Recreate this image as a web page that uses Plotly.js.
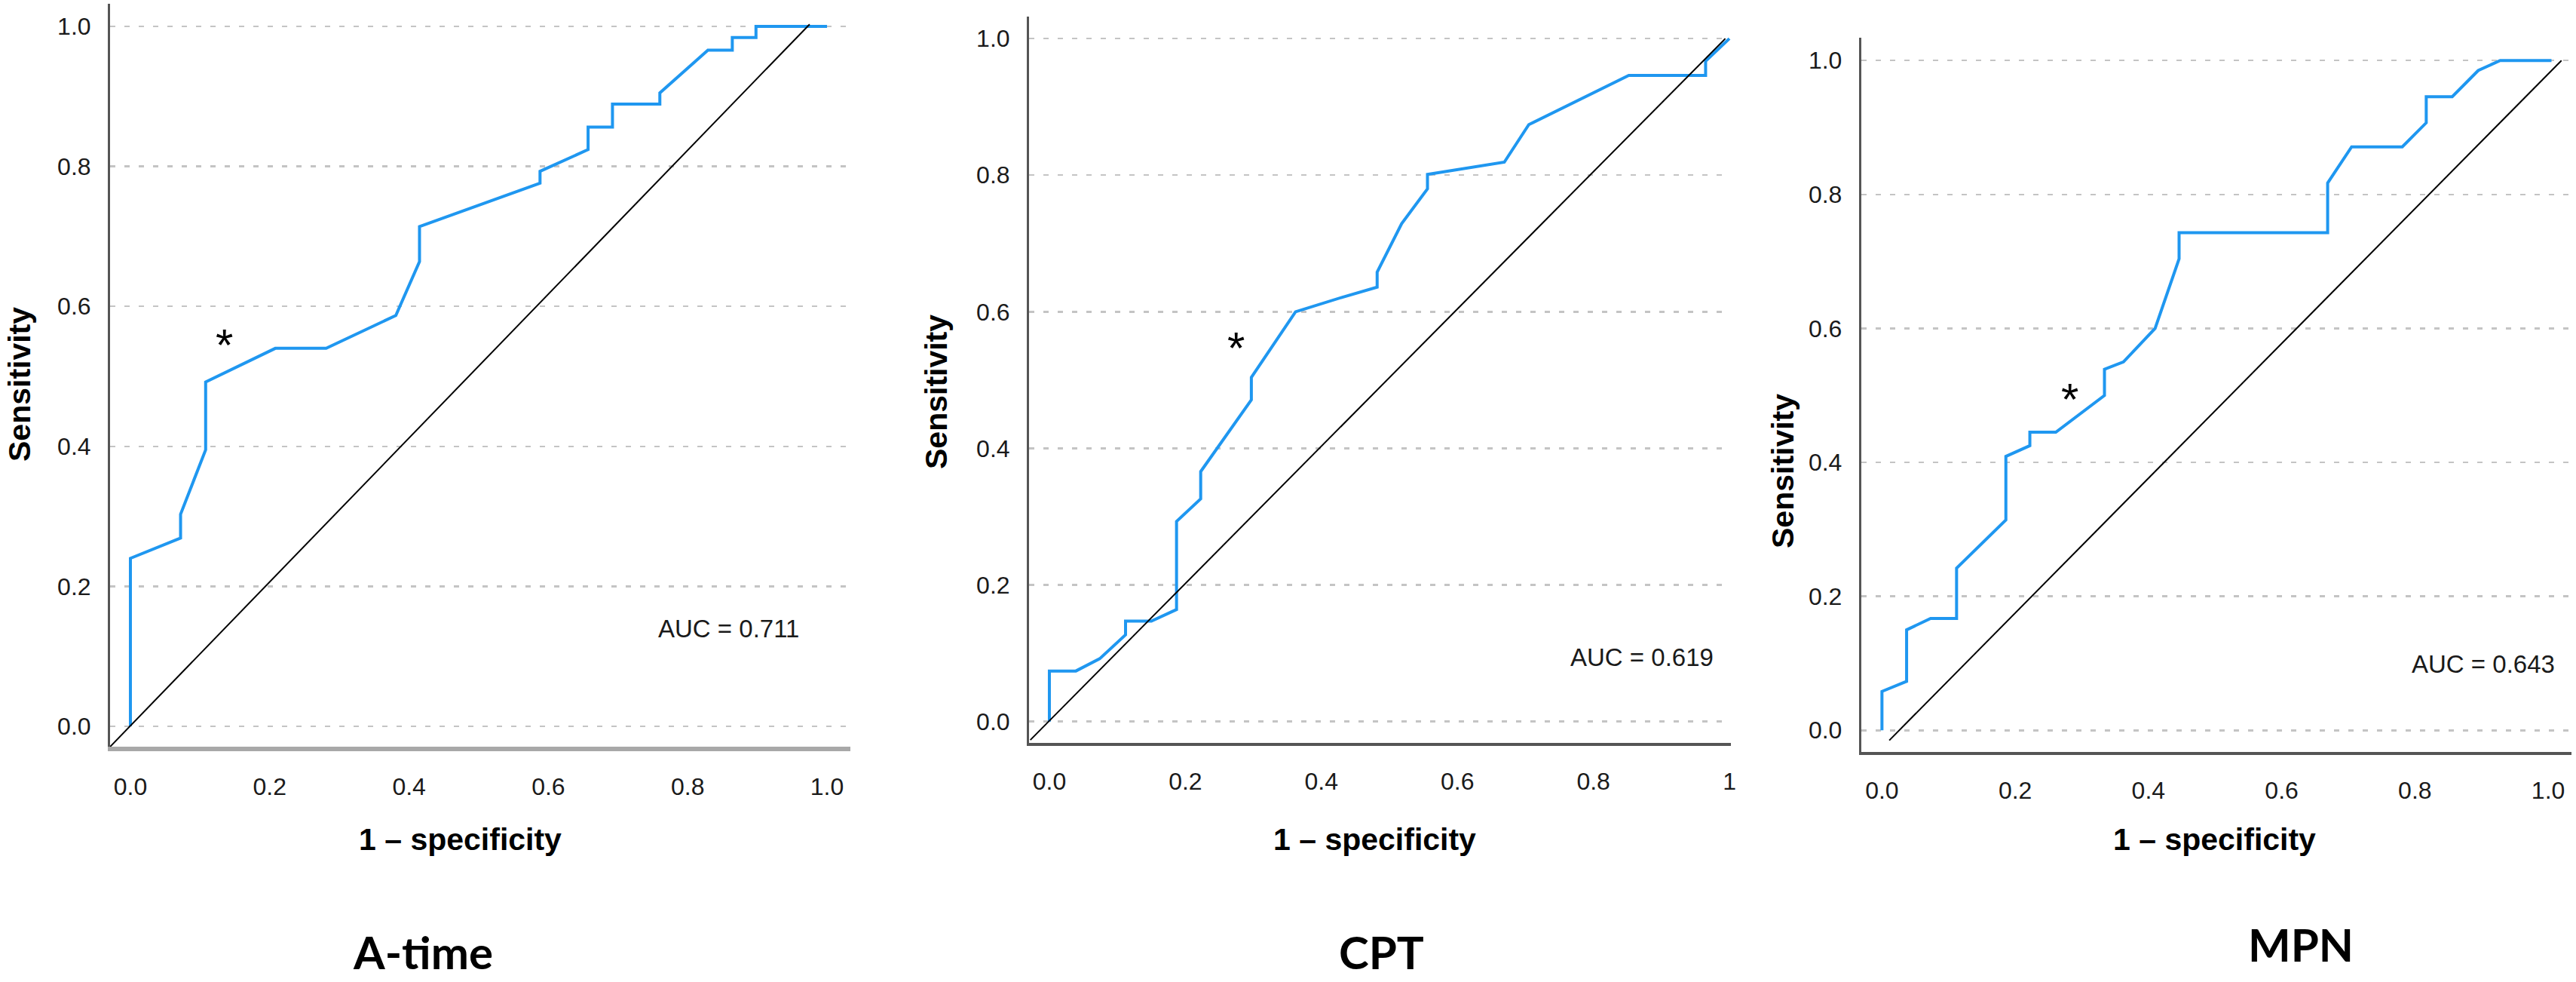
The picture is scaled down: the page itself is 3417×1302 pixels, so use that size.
<!DOCTYPE html>
<html>
<head>
<meta charset="utf-8">
<script src="https://cdn.plot.ly/plotly-3.0.1.min.js"></script>
<style>html,body{margin:0;padding:0;background:#fff;}#chart{width:3417px;height:1302px;}</style>
</head>
<body>
<div id="chart"></div>
<script>
// ---------------- data ----------------
const panelTitles = ["A-time", "CPT", "MPN"];
const aucLabels = ["AUC = 0.711", "AUC = 0.619", "AUC = 0.643"];

const aTimeFpr = [0, 0, 0.072, 0.072, 0.108, 0.108, 0.208, 0.281, 0.381, 0.415, 0.415, 0.588, 0.588, 0.657, 0.657, 0.692, 0.692, 0.760, 0.760, 0.829, 0.864, 0.864, 0.898, 0.898, 1.0];
const aTimeTpr = [0, 0.240, 0.269, 0.303, 0.395, 0.492, 0.540, 0.540, 0.587, 0.664, 0.714, 0.776, 0.793, 0.824, 0.856, 0.856, 0.889, 0.889, 0.905, 0.966, 0.966, 0.984, 0.984, 1.0, 1.0];

const cptFpr = [0, 0, 0.039, 0.074, 0.112, 0.112, 0.150, 0.187, 0.187, 0.2225, 0.2225, 0.297, 0.297, 0.362, 0.430, 0.482, 0.482, 0.518, 0.556, 0.556, 0.669, 0.705, 0.852, 0.965, 0.965, 1.0];
const cptTpr = [0, 0.074, 0.074, 0.092, 0.127, 0.147, 0.147, 0.164, 0.293, 0.326, 0.366, 0.471, 0.504, 0.600, 0.621, 0.636, 0.658, 0.729, 0.780, 0.801, 0.819, 0.874, 0.946, 0.946, 0.967, 1.0];

const mpnFpr = [0, 0, 0.037, 0.037, 0.073, 0.112, 0.112, 0.186, 0.186, 0.222, 0.222, 0.261, 0.334, 0.334, 0.3625, 0.410, 0.446, 0.446, 0.669, 0.669, 0.705, 0.781, 0.817, 0.817, 0.856, 0.895, 0.928, 1.005];
const mpnTpr = [0, 0.058, 0.073, 0.150, 0.167, 0.167, 0.242, 0.314, 0.409, 0.425, 0.445, 0.445, 0.500, 0.539, 0.550, 0.600, 0.704, 0.743, 0.743, 0.817, 0.871, 0.871, 0.907, 0.946, 0.946, 0.985, 1.0, 1.0];

// reference (chance) lines as drawn
const refAx = [-0.029, 0.975], refAy = [-0.029, 1.003];
const refCx = [-0.028, 0.994], refCy = [-0.027, 1.0];
const refMx = [0.011, 1.020], refMy = [-0.015, 1.0];

// significance marks (x, y)
const starX = [0.135, 0.274, 0.282];
const starY = [0.555, 0.558, 0.505];
// AUC label anchor (right edge x, middle y)
const aucX = [0.962, 0.979, 1.012];
const aucY = [0.14, 0.094, 0.099];

const yTickVals = [0, 0.2, 0.4, 0.6, 0.8, 1.0];
const yTickText = ["0.0", "0.2", "0.4", "0.6", "0.8", "1.0"];
const xTickVals = [0, 0.2, 0.4, 0.6, 0.8, 1.0];
const xTickTextA = ["0.0", "0.2", "0.4", "0.6", "0.8", "1.0"];
const xTickTextC = ["0.0", "0.2", "0.4", "0.6", "0.8", "1"];
const xTickTextM = ["0.0", "0.2", "0.4", "0.6", "0.8", "1.0"];

// ---------------- layout helpers ----------------
const W = 3417, H = 1302;
const px = v => v / W;
const py = v => 1 - v / H;
const FONT = "Liberation Sans, Arial, Helvetica, sans-serif";
const BLUE = "#1f97f0";

const traces = [
  {x: aTimeFpr, y: aTimeTpr, xaxis: "x", yaxis: "y", mode: "lines", line: {color: BLUE, width: 4}, hoverinfo: "skip"},
  {x: refAx, y: refAy, xaxis: "x", yaxis: "y", mode: "lines", line: {color: "#000", width: 2}, hoverinfo: "skip"},
  {x: cptFpr, y: cptTpr, xaxis: "x2", yaxis: "y2", mode: "lines", line: {color: BLUE, width: 4}, hoverinfo: "skip"},
  {x: refCx, y: refCy, xaxis: "x2", yaxis: "y2", mode: "lines", line: {color: "#000", width: 2}, hoverinfo: "skip"},
  {x: mpnFpr, y: mpnTpr, xaxis: "x3", yaxis: "y3", mode: "lines", line: {color: BLUE, width: 4}, hoverinfo: "skip"},
  {x: refMx, y: refMy, xaxis: "x3", yaxis: "y3", mode: "lines", line: {color: "#000", width: 2}, hoverinfo: "skip"}
];

function xAxis(domain, range, ticktext, lineColor, lineWidth) {
  return {
    domain: domain, range: range, showgrid: false, zeroline: false,
    showline: true, linecolor: lineColor, linewidth: lineWidth,
    tickmode: "array", tickvals: xTickVals, ticktext: ticktext, ticks: "",
    ticklabelstandoff: 20,
    tickfont: {family: FONT, size: 32, color: "#1a1a1a"}, fixedrange: true
  };
}
function yAxis(domain, range, anchor) {
  return {
    domain: domain, range: range, anchor: anchor, zeroline: false,
    showline: true, linecolor: "#555", linewidth: 3,
    showgrid: true, gridcolor: "#c4c4c4", gridwidth: 2.5, griddash: "7px,12px",
    tickmode: "array", tickvals: yTickVals, ticktext: yTickText, ticks: "",
    ticklabelstandoff: 16,
    tickfont: {family: FONT, size: 32, color: "#1a1a1a"}, fixedrange: true
  };
}

const layout = {
  width: W, height: H, autosize: false,
  margin: {l: 0, r: 0, t: 0, b: 0, pad: 0},
  paper_bgcolor: "#fff", plot_bgcolor: "#fff", showlegend: false,
  xaxis: Object.assign(xAxis([px(146), px(1128)], [-0.0292, 1.0335], xTickTextA, "#a8a8a8", 6), {anchor: "y"}),
  yaxis: yAxis([py(990), py(5)], [-0.0291, 1.0323], "x"),
  xaxis2: Object.assign(xAxis([px(1365), px(2296)], [-0.0299, 1.0022], xTickTextC, "#555", 4), {anchor: "y2"}),
  yaxis2: yAxis([py(985), py(21.7)], [-0.0313, 1.0325], "x2"),
  xaxis3: Object.assign(xAxis([px(2468.8), px(3411)], [-0.0312, 1.035], xTickTextM, "#555", 4), {anchor: "y3"}),
  yaxis3: yAxis([py(996.7), py(50)], [-0.032, 1.034], "x3"),
  annotations: []
};

const axRefs = [["x", "y"], ["x2", "y2"], ["x3", "y3"]];
const ytitlePos = [[26, 510], [1242, 520], [2365, 625]];
const xtitlePos = [[610, 1113], [1823, 1113], [2937, 1113]];
const titlePos = [[561, 1262], [1832, 1262], [3052, 1252]];

for (let i = 0; i < 3; i++) {
  layout.annotations.push({
    xref: "paper", yref: "paper", x: px(ytitlePos[i][0]), y: py(ytitlePos[i][1]),
    text: "Sensitivity", textangle: -90, showarrow: false,
    xanchor: "center", yanchor: "middle",
    font: {family: FONT, size: 41, color: "#000", weight: "bold"}
  });
  layout.annotations.push({
    xref: "paper", yref: "paper", x: px(xtitlePos[i][0]), y: py(xtitlePos[i][1]),
    text: "1 \u2013 specificity", showarrow: false,
    xanchor: "center", yanchor: "middle",
    font: {family: FONT, size: 41, color: "#000", weight: "bold"}
  });
  layout.annotations.push({
    xref: "paper", yref: "paper", x: px(titlePos[i][0]), y: py(titlePos[i][1]),
    text: panelTitles[i], showarrow: false,
    xanchor: "center", yanchor: "middle",
    font: {family: "Lato, Liberation Sans, sans-serif", size: 60, color: "#000", weight: "bold"}
  });
  layout.annotations.push({
    xref: axRefs[i][0], yref: axRefs[i][1], x: aucX[i], y: aucY[i],
    text: aucLabels[i], showarrow: false, xanchor: "right", yanchor: "middle",
    font: {family: FONT, size: 33, color: "#1a1a1a"}
  });
  layout.annotations.push({
    xref: axRefs[i][0], yref: axRefs[i][1], x: starX[i], y: starY[i],
    text: "*", showarrow: false, xanchor: "center", yanchor: "middle", yshift: -10,
    font: {family: FONT, size: 60, color: "#000"}
  });
}

Plotly.newPlot("chart", traces, layout, {displayModeBar: false, staticPlot: true});
</script>
</body>
</html>
